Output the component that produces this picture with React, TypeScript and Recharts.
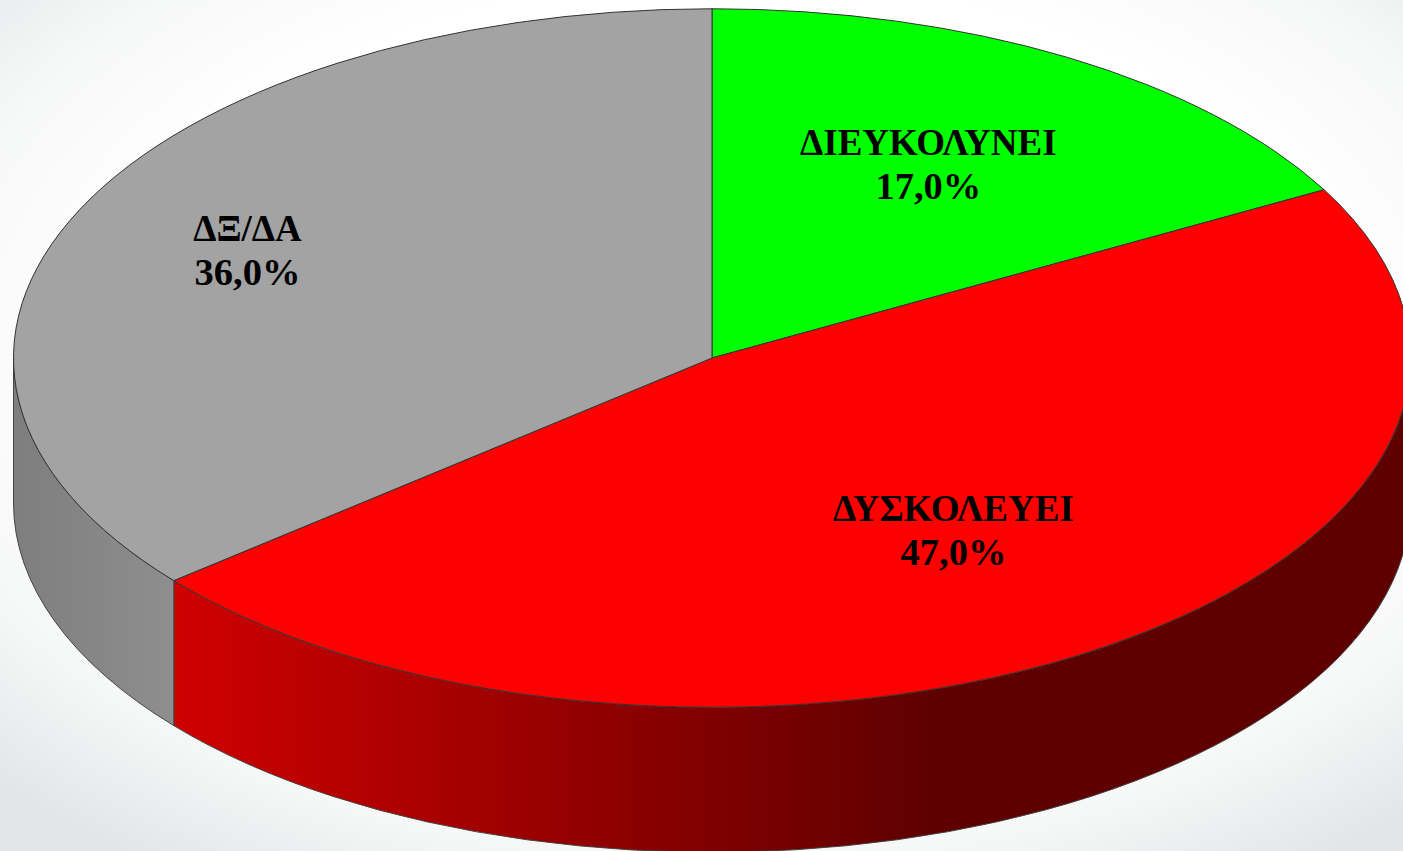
import React from "react";
import { PieChart, Pie, Cell } from "recharts";

const categories = ["ΔΙΕΥΚΟΛΥΝΕΙ", "ΔΥΣΚΟΛΕΥΕΙ", "ΔΞ/ΔΑ"];
const values = [17, 47, 36];
const valueLabels = ["17,0%", "47,0%", "36,0%"];
const topFills = ["#00ff00", "#ff0000", "#a3a3a3"];
const wallFills = ["#008000", "url(#redWall)", "url(#grayWall)"];
const labelRadii = [0.633, 0.605, 0.732];
const labelAngleNudges = [1.3, 0.65, 0.5];

const W = 1403;
const H = 851;
const CX = 712;
const CY = 358;
const RX = 698.5;
const TILT = 0.5;
const DEPTH = 145;
const FONT = '"Liberation Serif", "Times New Roman", serif';

const data = categories.map((name, i) => ({ name, value: values[i] }));

const pt = (a: number, r: number, cx: number, cy: number, dy = 0) => {
  const t = (a * Math.PI) / 180;
  return [cx + r * Math.cos(t), cy - r * TILT * Math.sin(t) + dy];
};

const TopSlice = (p: any) => {
  const { cx, cy, outerRadius: r, startAngle: s, endAngle: e, fill } = p;
  const [x0, y0] = pt(s, r, cx, cy);
  const [x1, y1] = pt(e, r, cx, cy);
  const large = Math.abs(s - e) > 180 ? 1 : 0;
  const d = `M${cx},${cy} L${x0},${y0} A${r},${r * TILT} 0 ${large} 1 ${x1},${y1} Z`;
  return <path d={d} fill={fill} stroke="#333" strokeWidth={1} strokeLinejoin="round" />;
};

// the wall is visible only for the front half: angles from 0 down to -180
const WallSlice = (p: any) => {
  const { cx, cy, outerRadius: r, startAngle: s, endAngle: e, fill } = p;
  const a0 = Math.min(s, 0);
  const a1 = Math.max(e, -180);
  if (a0 <= a1) return <g />;
  const [x0, y0] = pt(a0, r, cx, cy);
  const [x1, y1] = pt(a1, r, cx, cy);
  const [x2, y2] = pt(a1, r, cx, cy, DEPTH);
  const [x3, y3] = pt(a0, r, cx, cy, DEPTH);
  const ry = r * TILT;
  const d = `M${x0},${y0} A${r},${ry} 0 0 1 ${x1},${y1} L${x2},${y2} A${r},${ry} 0 0 0 ${x3},${y3} Z`;
  return <path d={d} fill={fill} stroke="#444" strokeWidth={1} strokeLinejoin="round" />;
};

const renderLabel = (p: any) => {
  const { cx, cy, outerRadius: r, midAngle, index } = p;
  const [x, y] = pt(midAngle + labelAngleNudges[index], r * labelRadii[index], cx, cy);
  const text = {
    fontFamily: FONT,
    fontWeight: 700,
    fill: "#000",
    textAnchor: "middle" as const,
  };
  return (
    <g key={index}>
      <text x={x} y={y - 10} fontSize={37} {...text}>{categories[index]}</text>
      <text x={x} y={y + 34} fontSize={38.5} {...text}>{valueLabels[index]}</text>
    </g>
  );
};

export default function App() {
  return (
    <div
      style={{
        position: "absolute",
        left: 0,
        top: 0,
        width: W,
        height: H,
        overflow: "hidden",
        background:
          "radial-gradient(ellipse 72% 72% at 52% 42%, #ffffff 0%, #ffffff 62%, #f6f7f7 82%, #e4e5e7 100%)",
      }}
    >
      <PieChart width={W} height={H} margin={{ top: 0, right: 0, bottom: 0, left: 0 }}>
        <defs>
          <linearGradient id="redWall" gradientUnits="userSpaceOnUse" x1={174} y1={0} x2={930} y2={0}>
            <stop offset="0" stopColor="#cf0000" />
            <stop offset="1" stopColor="#5f0000" />
          </linearGradient>
          <linearGradient id="grayWall" gradientUnits="userSpaceOnUse" x1={13} y1={0} x2={174} y2={0}>
            <stop offset="0" stopColor="#7e7e7e" />
            <stop offset="1" stopColor="#8e8e8e" />
          </linearGradient>
        </defs>
        <Pie
          data={data}
          dataKey="value"
          nameKey="name"
          cx={CX}
          cy={CY}
          innerRadius={0}
          outerRadius={RX}
          startAngle={90}
          endAngle={-270}
          isAnimationActive={false}
          shape={WallSlice}
          label={false}
          labelLine={false}
        >
          {categories.map((c, i) => (
            <Cell key={c} fill={wallFills[i]} />
          ))}
        </Pie>
        <Pie
          data={data}
          dataKey="value"
          nameKey="name"
          cx={CX}
          cy={CY}
          innerRadius={0}
          outerRadius={RX}
          startAngle={90}
          endAngle={-270}
          isAnimationActive={false}
          shape={TopSlice}
          label={renderLabel}
          labelLine={false}
        >
          {categories.map((c, i) => (
            <Cell key={c} fill={topFills[i]} />
          ))}
        </Pie>
      </PieChart>
    </div>
  );
}
